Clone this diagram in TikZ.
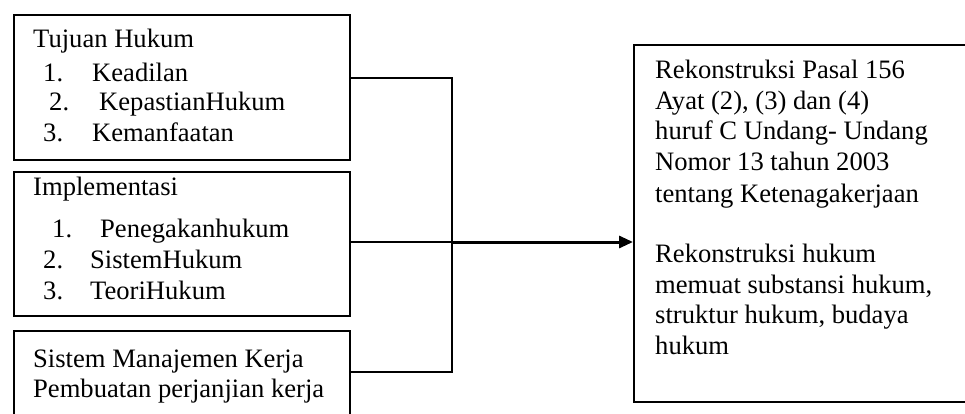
\documentclass[tikz,border=0pt]{standalone}
\usepackage{fontspec}
\setmainfont{Liberation Serif}
\usetikzlibrary{arrows.meta}
\begin{document}
\begin{tikzpicture}[x=1pt,y=-1pt,
  box/.style={draw,line width=2pt,rectangle,inner sep=0pt,anchor=north west},
  txt/.style={anchor=base west,inner sep=0pt,font=\fontsize{26.6}{30.5}\selectfont},
  conn/.style={line width=2pt},
  arr/.style={line width=3pt,-{Triangle[length=14pt,width=12pt]}}]
\useasboundingbox (0,0) rectangle (965,414);
\clip (0,0) rectangle (965,414);
% boxes
\node[box,minimum width=336pt,minimum height=145pt] (b1) at (13,14) {};
\node[box,minimum width=336pt,minimum height=144pt] (b2) at (13,171) {};
\node[box,minimum width=336pt,minimum height=120pt] (b3) at (13,330) {};
\node[box,minimum width=360pt,minimum height=357pt] (r) at (633,44) {};
% box 1 text
\node[txt] (t1) at (33,48) {Tujuan Hukum};
\node[txt] (t1a) at (43,82) {1.};
\node[txt] (t1b) at (92,82) {Keadilan};
\node[txt] (t1c) at (49,111) {2.};
\node[txt] (t1d) at (99,111) {KepastianHukum};
\node[txt] (t1e) at (43,142) {3.};
\node[txt] (t1f) at (92,142) {Kemanfaatan};
% box 2 text
\node[txt] (t2) at (33,195) {Implementasi};
\node[txt] (t2a) at (52,237) {1.};
\node[txt] (t2b) at (100,237) {Penegakanhukum};
\node[txt] (t2c) at (43,268) {2.};
\node[txt] (t2d) at (90,268) {SistemHukum};
\node[txt] (t2e) at (43,299) {3.};
\node[txt] (t2f) at (90,299) {TeoriHukum};
% box 3 text
\node[txt] (t3) at (33,367) {Sistem Manajemen Kerja};
\node[txt] (t3a) at (33,397) {Pembuatan perjanjian kerja};
% right box text
\node[txt] (r1) at (655,79) {Rekonstruksi Pasal 156};
\node[txt] (r2) at (655,110) {Ayat (2), (3) dan (4)};
\node[txt] (r3) at (655,140) {huruf C Undang- Undang};
\node[txt] (r4) at (655,171) {Nomor 13 tahun 2003};
\node[txt] (r5) at (655,202) {tentang Ketenagakerjaan};
\node[txt] (r6) at (655,262) {Rekonstruksi hukum};
\node[txt] (r7) at (655,293) {memuat substansi hukum,};
\node[txt] (r8) at (655,323) {struktur hukum, budaya};
\node[txt] (r9) at (655,354) {hukum};
% connectors
\coordinate (ya) at (0,78);
\coordinate (yb) at (0,242);
\coordinate (yc) at (0,372);
\coordinate (jx) at (452,0);
\draw[conn] (b1.east |- ya) -- (jx |- ya) -- (jx |- yc) -- (b3.east |- yc);
\draw[conn] (b2.east |- yb) -- (jx |- yb);
\draw[arr] (jx |- yb) -- (r.west |- yb);
\end{tikzpicture}
\end{document}
